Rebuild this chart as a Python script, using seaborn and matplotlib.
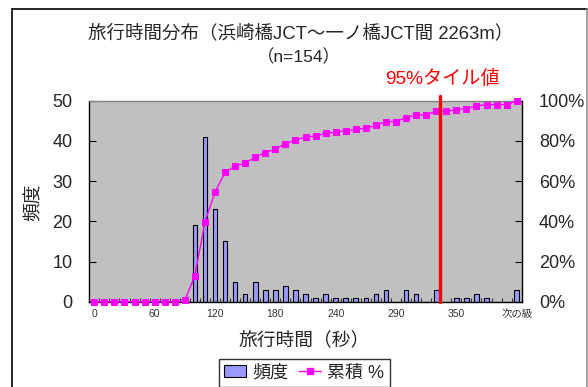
import numpy as np
import pandas as pd
import matplotlib
matplotlib.use("Agg")
import matplotlib.pyplot as plt
from matplotlib.lines import Line2D
from matplotlib.patches import Patch
import seaborn as sns

# Frequency per 10-second class (last class = overflow "次の級")
freq = [0, 0, 0, 0, 0, 0, 0, 0, 0, 1,
        19, 41, 23, 15, 5, 2, 5, 3, 3, 4,
        3, 2, 1, 2, 1, 1, 1, 1, 2, 3,
        0, 3, 2, 0, 3, 0, 1, 1, 2, 1,
        0, 0, 3]
tick_pos = [0, 6, 12, 18, 24, 30, 36, 42]
tick_labels = ["0", "60", "120", "180", "240", "290", "350", "次の級"]
pct95_pos = 34.4          # class position of the 95th percentile travel time
n_total = 154

sns.set_theme(style="white")
plt.rcParams["font.family"] = ["Liberation Sans", "Noto Sans CJK JP", "DejaVu Sans"]

idx = np.arange(len(freq))
cum = np.cumsum(freq) / n_total * 100
df = pd.DataFrame({"cls": idx, "freq": freq, "cum": cum})

W, H = 588, 387
fig = plt.figure(figsize=(W / 100, H / 100), dpi=100)
fig.patch.set_facecolor("white")

ax_l, ax_r, ax_t, ax_b = 89.3, 521.7, 100.7, 301.7
ax = fig.add_axes([ax_l / W, 1 - ax_b / H, (ax_r - ax_l) / W, (ax_b - ax_t) / H])
ax.set_facecolor("#C0C0C0")

bar_color = "#9999FF"
line_color = "#FF00FF"

sns.barplot(data=df, x="cls", y="freq", ax=ax, color=bar_color, width=0.46,
            edgecolor="black", linewidth=0.8, saturation=1, zorder=2)

ax.set_xlim(-0.5, len(freq) - 0.5)
ax.set_ylim(0, 50)
ax.set_yticks(range(0, 51, 10))
ax.set_xticks(tick_pos)
ax.set_xticklabels(tick_labels, fontsize=7.5, color="#333333")
ax.set_xticks(np.arange(-0.5, len(freq), 1), minor=True)
ax.tick_params(axis="x", which="major", length=0, pad=5)
ax.tick_params(axis="x", which="minor", direction="in", length=3, width=0.8,
               color="#333333", bottom=True)
ax.tick_params(axis="y", direction="in", length=5, width=0.8, color="black",
               labelsize=13, pad=12, left=True)
ax.set_xlabel("")
ax.set_ylabel("")
for s in ["left", "bottom"]:
    ax.spines[s].set_color("black")
    ax.spines[s].set_linewidth(1.0)
ax.spines["top"].set_color("#808080")
ax.spines["top"].set_linewidth(1.0)
ax.spines["right"].set_visible(False)

# Cumulative percentage on the secondary axis
ax2 = ax.twinx()
sns.lineplot(data=df, x="cls", y="cum", ax=ax2, color=line_color, marker="s",
             markersize=4.4, markeredgecolor=line_color, linewidth=1.0, zorder=4)
for ln in ax2.lines:
    ln.set_clip_on(False)
ax2.set_ylim(0, 100)
ax2.set_xlim(-0.5, len(freq) - 0.5)
ax2.set_yticks(range(0, 101, 20))
ax2.set_yticklabels([f"{v}%" for v in range(0, 101, 20)])
ax2.tick_params(axis="y", direction="in", length=5, width=0.8, color="black",
                labelsize=13, pad=12.5, right=True)
ax2.set_ylabel("")
ax2.set_xlabel("")
for s in ["left", "top", "bottom"]:
    ax2.spines[s].set_visible(False)
ax2.spines["right"].set_color("black")
ax2.spines["right"].set_linewidth(1.0)

# 95th percentile marker
ax2.plot([pct95_pos, pct95_pos], [0, 102.4], color="#FF0000", linewidth=2.4,
         clip_on=False, zorder=5)
fig.text(442 / W, 1 - 79 / H, "95%タイル値", color="#FF0000", fontsize=13.8,
         ha="center", va="center")

# Titles and axis labels
fig.text(301 / W, 1 - 33 / H, "旅行時間分布（浜崎橋JCT～一ノ橋JCT間 2263m）",
         fontsize=13.3, ha="center", va="center")
fig.text(299 / W, 1 - 57 / H, "（n=154）", fontsize=12.5, ha="center", va="center")
fig.text(304 / W, 1 - 340 / H, "旅行時間（秒）", fontsize=13.5, ha="center", va="center")
fig.text(34 / W, 1 - 202 / H, "頻度", fontsize=13.5, rotation=90, ha="center", va="center")

# Legend
handles = [Patch(facecolor=bar_color, edgecolor="black", linewidth=0.8),
           Line2D([0], [0], color=line_color, marker="s", markersize=4.2, linewidth=1.0)]
leg = fig.legend(handles, ["頻度", "累積 %"], loc="upper left",
                 bbox_to_anchor=(219 / W, 1 - 359 / H), ncol=2, fontsize=13,
                 frameon=True, fancybox=False, handlelength=1.2, handletextpad=0.35,
                 columnspacing=0.6, borderpad=0.3, borderaxespad=0)
leg.get_frame().set_edgecolor("black")
leg.get_frame().set_linewidth(1.0)

# Chart area border
fig.add_artist(Line2D([11.7 / W, 11.7 / W], [0, 1 - 8.5 / H], color="black",
                      linewidth=1.2, transform=fig.transFigure))
fig.add_artist(Line2D([11.7 / W, 586.5 / W], [1 - 8.5 / H, 1 - 8.5 / H], color="black",
                      linewidth=1.2, transform=fig.transFigure))
fig.add_artist(Line2D([586.5 / W, 586.5 / W], [0, 1 - 8.5 / H], color="#909090",
                      linewidth=1.2, transform=fig.transFigure))

fig.savefig("out.png", dpi=100)
